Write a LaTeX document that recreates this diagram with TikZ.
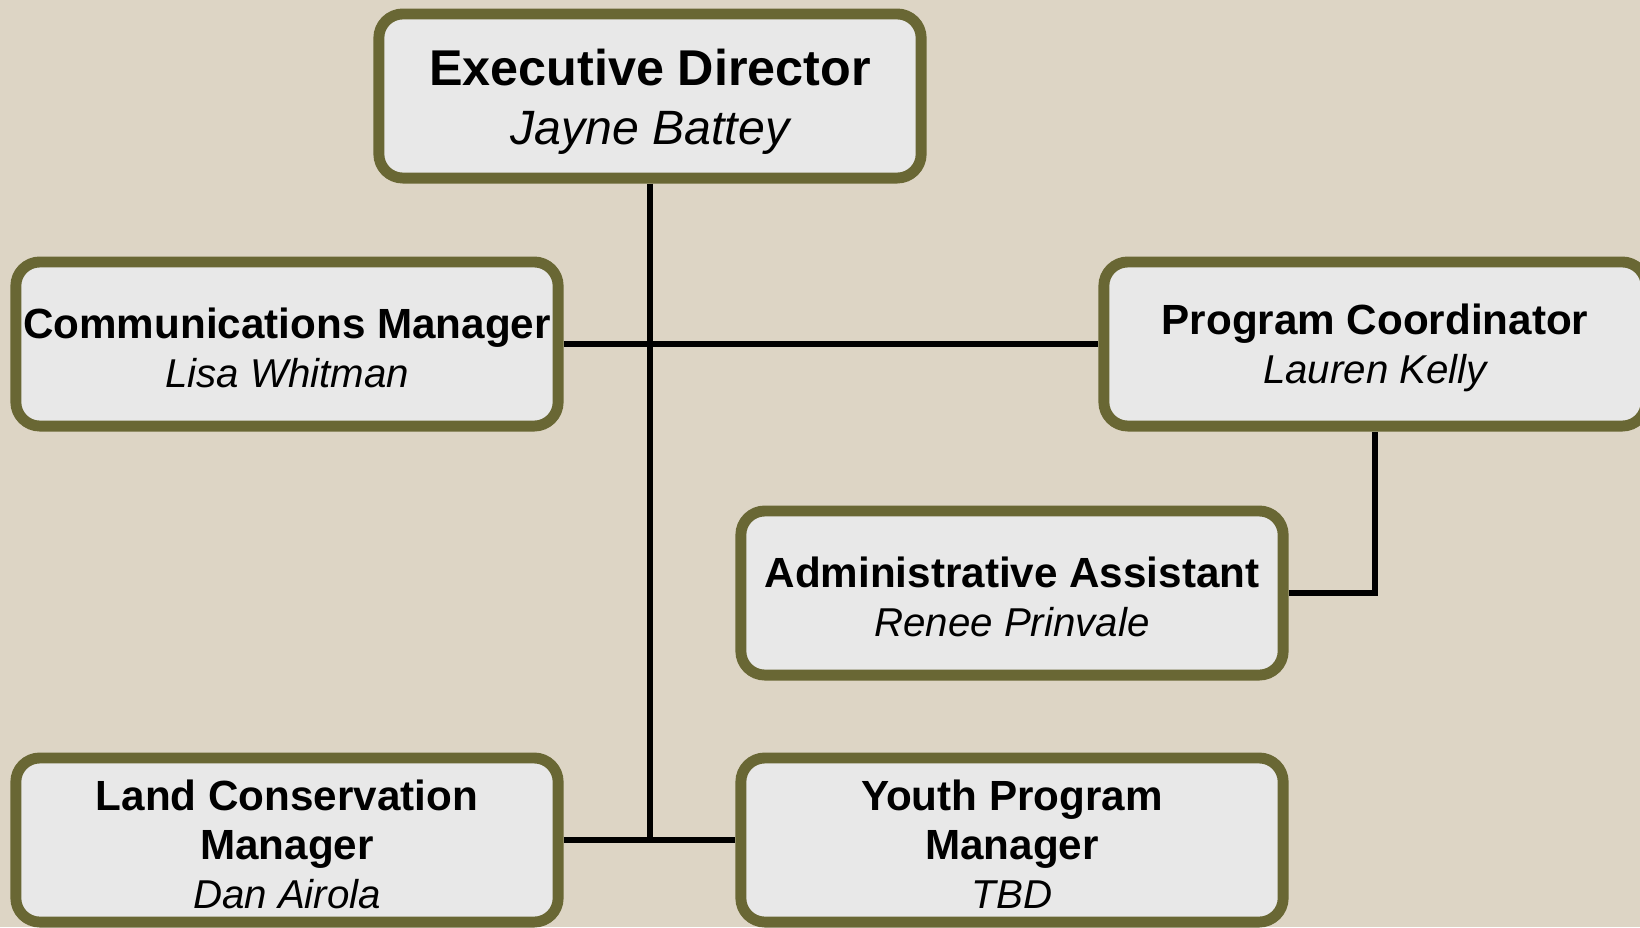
\documentclass[tikz,border=0pt]{standalone}
\usepackage{fontspec}
\setmainfont{Liberation Sans}
\usetikzlibrary{backgrounds}
\definecolor{paper}{RGB}{221,213,197}
\definecolor{boxfill}{RGB}{232,232,232}
\definecolor{olive}{RGB}{105,103,52}
\newcommand\who[2][11.45]{{\fontsize{#1}{14}\selectfont\itshape #2}}
\newcommand\lift[1][11.1pt]{\rule{0pt}{#1}}
\tikzset{
  post/.style={draw=olive, line width=3.1pt, fill=boxfill, rounded corners=0.24cm,
    minimum width=5.42cm, minimum height=1.64cm, inner sep=0pt, align=center,
    font=\fontsize{12}{14}\selectfont},
  link/.style={line width=1.85pt}
}
\begin{document}
\begin{tikzpicture}[x=0.01cm, y=-0.01cm]
      \useasboundingbox (0,0) rectangle (1640,927);
      \node[post, font=\fontsize{14.3}{16.8}\selectfont] (exec) at (650,96)
        {\lift[13.8pt]\textbf{Executive Director}\\\who[13.7]{Jayne Battey}};
      \node[post] (comm) at (287,344)
        {\lift\textbf{Communications Manager}\\\who{Lisa Whitman}};
      \node[post] (progco) at (1375,344)
        {\lift\textbf{Program Coordinator}\\\who{Lauren Kelly}};
      \node[post] (admin) at (1012,593)
        {\lift\textbf{Administrative Assistant}\\\who{Renee Prinvale}};
      \node[post] (land) at (287,840)
        {\lift\textbf{Land Conservation}\\\textbf{Manager}\\\who{Dan Airola}};
      \node[post] (youth) at (1012,840)
        {\lift\textbf{Youth Program}\\\textbf{Manager}\\\who{TBD}};
      \begin{scope}[on background layer]
        \fill[paper] (0,0) rectangle (1640,927);
        \draw[link] (exec.south) -- (exec.south |- land.east);
        \draw[link] (comm.east) -- (progco.west);
        \draw[link] (land.east) -- (youth.west);
        \draw[link] (progco.south) -- (progco.south |- admin.east) -- (admin.east);
      \end{scope}
    \end{tikzpicture}
\end{document}
